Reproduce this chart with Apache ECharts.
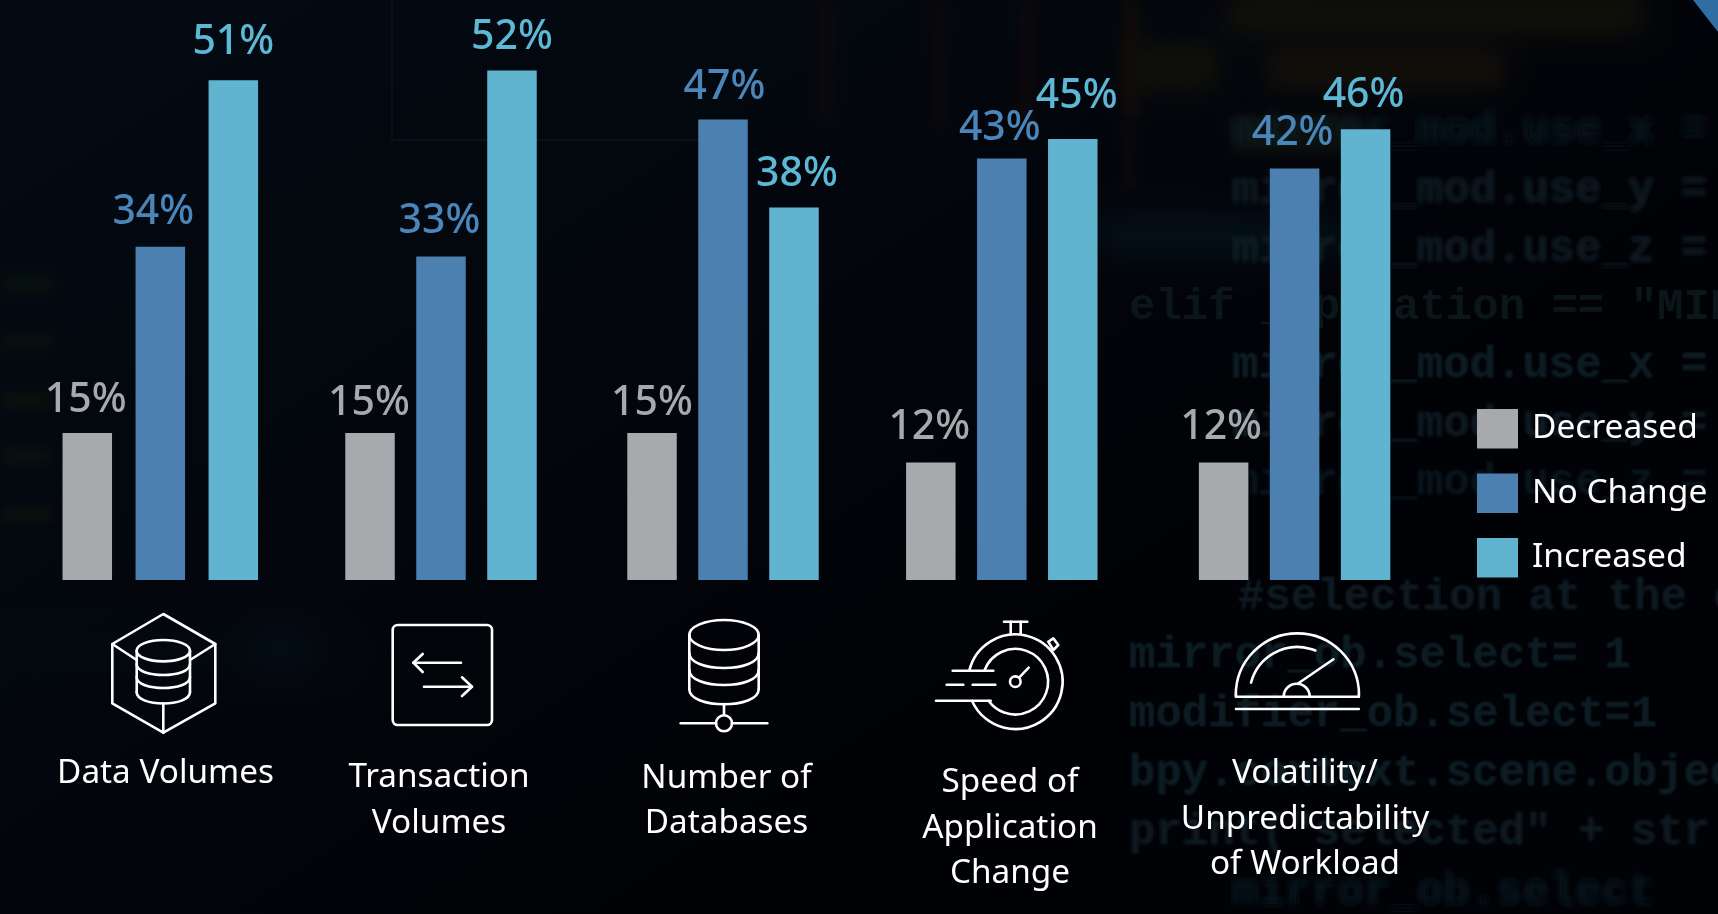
<!DOCTYPE html>
<html><head><meta charset="utf-8">
<style>html,body{margin:0;padding:0;background:#02030a}#c{width:1718px;height:914px}</style>
<script src="https://cdn.jsdelivr.net/npm/echarts@6/dist/echarts.min.js"></script>
</head><body><div id="c"></div>
<script>
// ---- data ----
const seriesNames = ['Decreased', 'No Change', 'Increased'];
const categories = [
  ['Data Volumes'],
  ['Transaction', 'Volumes'],
  ['Number of', 'Databases'],
  ['Speed of', 'Application', 'Change'],
  ['Volatility/', 'Unpredictability', 'of Workload']
];
const decreased = [15, 15, 15, 12, 12];
const noChange = [34, 33, 47, 43, 42];
const increased = [51, 52, 38, 45, 46];

// ---- layout & style (not data) ----
const W = 1718, H = 914, BASE = 580;
const colors = ['#a7a9ac', '#4b80b0', '#60b4cf'];
const labelColors = ['#a7a9ac', '#4b86bb', '#5db8d6'];
const FONT = 'Noto Sans';
const groupCenters = [160.3, 441, 723, 1001.8, 1294.6];
const groupBarGap = ['47.5%', '43.4%', '43.4%', '43.4%', '43.4%'];
const labelNudge = [
  [[-1.5, -12], [-1, -9.5], [0, -9.5], [-1.5, -14.5], [-2.5, -14.5]],
  [[-7, -14], [-1.5, -15], [1.5, -11.5], [-2, -9.5], [-2, -14.5]],
  [[0, -17.5], [0, -13], [3, -12.5], [4, -22], [-2, -13]]
];
const captionPos = [
  [165.5, [774]],
  [439, [778, 824]],
  [726.5, [779, 824]],
  [1010, [783, 829, 874]],
  [1305, [774, 820, 865]]
];
// text, x, y, opacity, blur radius
const codeLines = [
  ['mirror_mod.use_x =', 1232, 131, .6, 5],
  ['mirror_mod.use_y =', 1232, 191, .75, 3],
  ['mirror_mod.use_z =', 1232, 250, .75, 2.5],
  ['elif _operation == "MIRROR', 1129, 308, .9, 0],
  ['mirror_mod.use_x =', 1232, 366, .85, 1.5],
  ['mirror_mod.use_y =', 1232, 425, .75, 2],
  ['mirror_mod.use_z =', 1232, 483, .65, 2],
  ['#selection at the end', 1238, 598, .75, 1.5],
  ['mirror_ob.select= 1', 1129, 656, .85, 1],
  ['modifier_ob.select=1', 1129, 715, .85, 1],
  ['bpy.context.scene.objects', 1129, 774, .85, 1.5],
  ['print("selected" + str', 1129, 833, .75, 2],
  ['mirror_ob.select', 1232, 893, .6, 4]
];

const grids = [], xAxes = [], yAxes = [], series = [];
categories.forEach((cat, i) => {
  grids.push({ left: groupCenters[i] - 115, width: 230, top: BASE - 9.8 * 55, height: 9.8 * 55 });
  xAxes.push({ type: 'category', gridIndex: i, data: [cat.join(' ')], show: false });
  yAxes.push({ type: 'value', gridIndex: i, min: 0, max: 55, show: false });
  [decreased, noChange, increased].forEach((arr, s) => {
    series.push({
      type: 'bar', name: seriesNames[s], xAxisIndex: i, yAxisIndex: i,
      barWidth: 49.5, barGap: groupBarGap[i],
      data: [arr[i]],
      itemStyle: { color: colors[s] },
      silent: true, animation: false,
      label: {
        show: true, position: 'top', distance: 0, offset: labelNudge[s][i],
        formatter: '{c}%', color: labelColors[s], fontFamily: FONT, fontSize: 41, fontWeight: 500
      }
    });
  });
});

// ---- decoration helpers ----
const G = [];
const ST = { stroke: '#fff', lineWidth: 2.6, fill: 'none', lineCap: 'round', lineJoin: 'round' };
const add = (type, shape, style, z) => G.push({ type, shape, style: Object.assign({}, ST, style || {}), z: z || 6, silent: true });
const line = (x1, y1, x2, y2) => add('line', { x1, y1, x2, y2 });
const poly = (points) => add('polyline', { points });
const arc = (cx, cy, r, a0, a1) => add('arc', { cx, cy, r, startAngle: a0 * Math.PI / 180, endAngle: a1 * Math.PI / 180, clockwise: true });
const circle = (cx, cy, r) => add('circle', { cx, cy, r });
const ell = (cx, cy, rx, ry) => add('ellipse', { cx, cy, rx, ry });
const under = (cx, y, rx, ry) => add('bezierCurve', { x1: cx - rx, y1: y, x2: cx + rx, y2: y, cpx1: cx - rx, cpy1: y + ry * 4 / 3, cpx2: cx + rx, cpy2: y + ry * 4 / 3 });

// ---- background ----
const OFF = 4000; // shapes are parked off-canvas so that only their soft shadow shows
G.push({ type: 'rect', z: 0, silent: true, shape: { x: 0, y: 0, width: W, height: H }, style: { fill: { type: 'linear', x: 0, y: 0, x2: 0.35, y2: 1, colorStops: [{ offset: 0, color: '#040b13' }, { offset: .45, color: '#03070e' }, { offset: 1, color: '#010206' }] } } });
const blob = (x, y, w, h, c, b, r) => G.push({ type: 'rect', z: 0, silent: true, shape: { x: x - OFF, y, width: w, height: h, r: r || 4 }, style: { fill: c, shadowColor: c, shadowBlur: b, shadowOffsetX: OFF } });
// blurred top-right blobs
blob(1225, -6, 420, 40, '#100f09', 24, 12);
blob(1125, 42, 95, 50, '#0e0f09', 20, 14);
blob(1265, 46, 240, 44, '#110e0a', 20, 14);
blob(1232, 116, 130, 36, '#0c100d', 12);
// vertical streaks
blob(822, 0, 10, 120, '#120a0a', 14);
blob(936, 0, 8, 130, '#120a0a', 14);
blob(1022, 0, 10, 140, '#120a0a', 14);
blob(1124, 0, 14, 120, '#120b08', 12);
blob(1127, 130, 6, 60, '#130a09', 8);
// left dim bars
[276, 334, 392, 448, 506].forEach(y => blob(2, y, 50, 16, '#06100d', 10));
// blue band
blob(0, 645, 340, 16, '#030c13', 36, 8);
blob(255, 625, 50, 45, '#040d14', 24, 22);
blob(1100, 215, 240, 40, '#041018', 30, 8);
// thin lines top-left
G.push({ type: 'line', z: 0, silent: true, shape: { x1: 392, y1: 0, x2: 392, y2: 140 }, style: { stroke: '#06121a', lineWidth: 2 } });
G.push({ type: 'line', z: 0, silent: true, shape: { x1: 392, y1: 140, x2: 700, y2: 140 }, style: { stroke: '#06121a', lineWidth: 2 } });
// code text: soft copies around the position give the out-of-focus look
const softRing = [[0, 0], [1, 0], [-1, 0], [0, 1], [0, -1], [.7, .7], [-.7, .7], [.7, -.7], [-.7, -.7]];
codeLines.forEach(c => {
  const ring = c[4] ? softRing : [[0, 0]];
  ring.forEach(o => G.push({
    type: 'text', z: 1, silent: true,
    style: {
      text: c[0], x: c[1] + o[0] * c[4], y: c[2] + o[1] * c[4], fill: c[4] ? '#13252b' : '#0c181c',
      opacity: c[4] ? c[3] * 0.18 : c[3],
      fontFamily: 'Liberation Mono', fontWeight: 'bold', fontSize: 44, verticalAlign: 'middle'
    }
  }));
});
// corner triangle
G.push({ type: 'polygon', z: 1, silent: true, shape: { points: [[1693, 0], [1718, 0], [1718, 32]] }, style: { fill: '#2f6da3' } });

// ---- captions ----
categories.forEach((cat, i) => cat.forEach((t, k) => G.push({
  type: 'text', z: 6, silent: true,
  style: { text: t, x: captionPos[i][0], y: captionPos[i][1][k], fill: '#fff', fontFamily: FONT, fontSize: 33.3, align: 'center', textAlign: 'center', verticalAlign: 'middle' }
})));

// ---- icon 1: cube with database ----
poly([[163.3, 614], [215.3, 644], [215.3, 703.3], [163.3, 732.7], [112.3, 703.3], [112.3, 644], [163.3, 614]]);
line(112.3, 644, 136.7, 660); line(215.3, 644, 190, 660); line(163.3, 703.3, 163.3, 732.7);
ell(163.3, 650.7, 26.7, 10.7);
line(136.7, 650.7, 136.7, 692); line(190, 650.7, 190, 692);
under(163.3, 664, 26.7, 11); under(163.3, 677, 26.7, 11); under(163.3, 692, 26.7, 11.5);
// ---- icon 2: arrows ----
add('rect', { x: 392.7, y: 625, width: 99.3, height: 100, r: 5 });
line(461, 662.7, 413.3, 662.7); poly([[422.7, 654], [413.3, 662.7], [422.7, 672]]);
line(424, 686.7, 472, 686.7); poly([[462, 677.3], [472, 686.7], [462, 696]]);
// ---- icon 3: database ----
ell(724, 635, 34.7, 15);
line(689.3, 635, 689.3, 689.3); line(758.7, 635, 758.7, 689.3);
under(724, 653, 34.7, 15); under(724, 670, 34.7, 15); under(724, 689.3, 34.7, 15);
line(724, 704, 724, 715); circle(724, 723.3, 8);
line(680.7, 723.3, 716, 723.3); line(732, 723.3, 767.3, 723.3);
// ---- icon 4: stopwatch ----
arc(1015.3, 681.7, 47.3, 193.6, 516);
arc(1015.3, 681.7, 32.8, 200, 504);
line(952.7, 670.7, 993.3, 670.7); line(946.7, 684.7, 963.3, 684.7); line(972.7, 684.7, 995.3, 684.7);
line(936, 700.7, 990.7, 700.7);
line(1004, 621.7, 1027.3, 621.7); line(1010.7, 621.7, 1010.7, 634.3); line(1020.7, 621.7, 1020.7, 634.3);
poly([[1048.3, 641.7], [1053.3, 638.3], [1058.3, 645], [1053.3, 650], [1048.3, 641.7]]);
circle(1015.3, 681.7, 5.3); line(1019.3, 677.3, 1028.7, 667.7);
// ---- icon 5: gauge ----
arc(1297.4, 695, 61.6, 180, 360);
line(1236, 695, 1236, 696.7); line(1358.8, 695, 1358.8, 696.7);
line(1236, 696.7, 1358.8, 696.7); line(1236, 709, 1358.8, 709);
arc(1297.4, 695, 48, 195, 292);
arc(1296.7, 696.7, 13, 180, 360);
line(1298.4, 683.3, 1333.4, 659.3);

const chart = echarts.init(document.getElementById('c'), null, { renderer: 'canvas', width: W, height: H });
chart.setOption({
  backgroundColor: '#02030a',
  animation: false,
  grid: grids, xAxis: xAxes, yAxis: yAxes, series,
  legend: {
    data: seriesNames, orient: 'vertical', left: 1477, top: 409, padding: 0,
    itemWidth: 41, itemHeight: 39.5, itemGap: 25, selectedMode: false, icon: 'rect',
    textStyle: { color: '#fff', fontFamily: FONT, fontSize: 33.5, padding: [9, 0, 0, 9] }
  },
  graphic: { elements: G }
});
</script></body></html>
